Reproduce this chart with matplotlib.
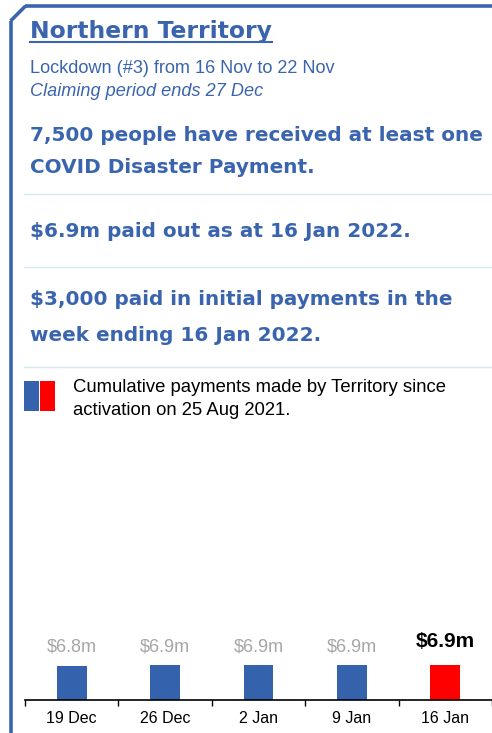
import matplotlib
matplotlib.use("Agg")
import matplotlib.pyplot as plt
from matplotlib.lines import Line2D
from matplotlib.patches import Rectangle

# ---- data ----
categories = ["19 Dec", "26 Dec", "2 Jan", "9 Jan", "16 Jan"]
values = [6.8, 6.9, 6.9, 6.9, 6.9]
value_labels = ["$6.8m", "$6.9m", "$6.9m", "$6.9m", "$6.9m"]

title = "Northern Territory"
subtitle = "Lockdown (#3) from 16 Nov to 22 Nov"
subtitle2 = "Claiming period ends 27 Dec"
stat1 = ["7,500 people have received at least one", "COVID Disaster Payment."]
stat2 = ["$6.9m paid out as at 16 Jan 2022."]
stat3 = ["$3,000 paid in initial payments in the", "week ending 16 Jan 2022."]
legend_text = ["Cumulative payments made by Territory since", "activation on 25 Aug 2021."]

BLUE = "#3A65AE"
BAR_BLUE = "#3562AC"
RED = "#FF0000"
SEP = "#D3EAF2"
GREY = "#A6A6A6"

W, H = 492, 733
fig = plt.figure(figsize=(W / 100, H / 100), dpi=100)

def fx(x):
    return x / W

def fy(y):
    return 1 - y / H

def line(x0, y0, x1, y1, **kw):
    fig.add_artist(Line2D([fx(x0), fx(x1)], [fy(y0), fy(y1)],
                          transform=fig.transFigure, **kw))

def text(x, y, s, **kw):
    fig.text(fx(x), fy(y), s, va="baseline", ha=kw.pop("ha", "left"), **kw)

# frame
line(25, 6, 492, 6, color=BLUE, lw=2.6, solid_capstyle="butt")
line(10.5, 21, 25.5, 6, color=BLUE, lw=2.6, solid_capstyle="butt")
line(10.5, 21, 10.5, 733, color=BLUE, lw=2.6, solid_capstyle="butt")

# header
text(30, 38, title, color=BLUE, fontsize=16.9, fontweight="bold", family="DejaVu Sans")
line(30, 42, 272, 42, color=BLUE, lw=1.5)
text(30, 73, subtitle, color=BLUE, fontsize=13.1, family="Liberation Sans")
text(30, 96, subtitle2, color=BLUE, fontsize=13.1, family="Liberation Sans", style="italic")

bold_kw = dict(color=BLUE, fontsize=14.4, fontweight="bold", family="DejaVu Sans")
for s, y in zip(stat1, [141, 173]):
    text(30, y, s, **bold_kw)
line(24, 194, 492, 194, color=SEP, lw=1)
for s, y in zip(stat2, [237]):
    text(30, y, s, **bold_kw)
line(24, 267, 492, 267, color=SEP, lw=1)
for s, y in zip(stat3, [305, 341]):
    text(30, y, s, **bold_kw)
line(24, 367, 492, 367, color=SEP, lw=1)

# legend swatches
fig.add_artist(Rectangle((fx(24), fy(411)), fx(15), 30 / H, transform=fig.transFigure,
                         facecolor=BAR_BLUE, edgecolor="none"))
fig.add_artist(Rectangle((fx(40), fy(411)), fx(15), 30 / H, transform=fig.transFigure,
                         facecolor=RED, edgecolor="none"))
for s, y in zip(legend_text, [392, 415]):
    text(73, y, s, color="black", fontsize=13.3, family="Liberation Sans")

# bar chart
ax = fig.add_axes([fx(25), fy(700), fx(467), 270 / H])
x = list(range(len(categories)))
colors = [BAR_BLUE] * (len(categories) - 1) + [RED]
bars = ax.bar(x, values, width=0.32, color=colors)
ax.set_xlim(-0.5, len(categories) - 0.5)
ax.set_ylim(0, 6.9 * 270 / 35)
for i, (b, lab) in enumerate(zip(bars, value_labels)):
    last = i == len(categories) - 1
    ax.annotate(lab, (b.get_x() + b.get_width() / 2, 6.9),
                xytext=(0, 9.5 if not last else 13), textcoords="offset points",
                ha="center", va="baseline",
                color="black" if last else GREY,
                fontsize=15 if last else 13,
                fontweight="bold" if last else "normal",
                family="Liberation Sans")

for s in ["top", "right", "left"]:
    ax.spines[s].set_visible(False)
ax.spines["bottom"].set_color("black")
ax.spines["bottom"].set_linewidth(1.2)
ax.set_yticks([])
ax.set_xticks(x)
ax.set_xticklabels(categories, family="Liberation Sans", fontsize=11.5)
ax.tick_params(axis="x", which="major", length=0, pad=8)
ax.set_xticks([i - 0.5 for i in range(len(categories) + 1)], minor=True)
ax.tick_params(axis="x", which="minor", length=4, width=1, color="black", direction="out")
ax.patch.set_alpha(0)

fig.savefig("out.png", dpi=100)
